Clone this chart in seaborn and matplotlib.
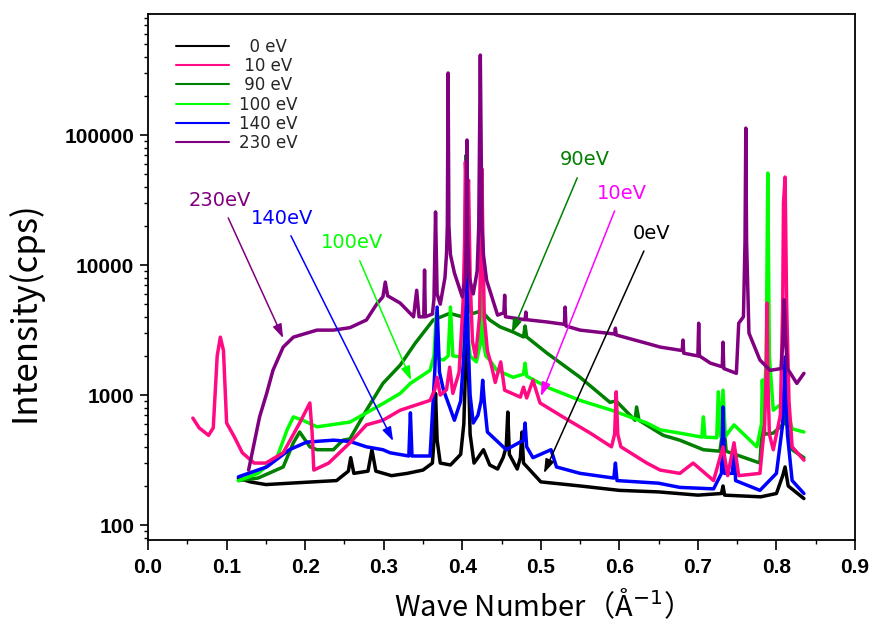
import matplotlib
matplotlib.use("Agg")
import matplotlib.pyplot as plt
from matplotlib.ticker import FixedLocator, FixedFormatter, LogLocator, NullFormatter, MultipleLocator
from matplotlib.lines import Line2D
import numpy as np
import pandas as pd
import seaborn as sns

# ---------------- data ----------------
black_x = [0.115, 0.13, 0.15, 0.18, 0.21, 0.24, 0.255, 0.258, 0.262, 0.28, 0.285, 0.29, 0.31, 0.33,
           0.35, 0.362, 0.364, 0.366, 0.368, 0.372, 0.385, 0.398, 0.402, 0.404, 0.406, 0.408, 0.41,
           0.415, 0.42, 0.427, 0.435, 0.445, 0.452, 0.456, 0.458, 0.46, 0.47, 0.474, 0.476, 0.478,
           0.5, 0.55, 0.6, 0.65, 0.7, 0.73, 0.732, 0.734, 0.78, 0.8, 0.808, 0.811, 0.815, 0.835]
black_y = [230, 215, 205, 210, 215, 220, 260, 330, 250, 260, 380, 260, 240, 250,
           265, 300, 450, 1030, 450, 300, 290, 350, 600, 1500, 8000, 1500, 500,
           300, 330, 380, 290, 270, 330, 400, 740, 350, 270, 330, 520, 300,
           215, 200, 185, 180, 170, 175, 200, 170, 165, 175, 240, 280, 200, 160]

pink_x = [0.057, 0.065, 0.077, 0.083, 0.088, 0.092, 0.096, 0.1, 0.11, 0.12, 0.135, 0.15, 0.172,
          0.193, 0.206, 0.209, 0.211, 0.23, 0.257, 0.278, 0.299, 0.321, 0.359, 0.365, 0.368,
          0.372, 0.38, 0.384, 0.388, 0.396, 0.401, 0.403, 0.404, 0.406, 0.408, 0.41, 0.413,
          0.417, 0.422, 0.424, 0.425, 0.426, 0.428, 0.432, 0.437, 0.442, 0.449, 0.454, 0.474,
          0.478, 0.482, 0.49, 0.499, 0.528, 0.563, 0.59, 0.594, 0.596, 0.598, 0.602, 0.635,
          0.652, 0.677, 0.694, 0.72, 0.732, 0.738, 0.746, 0.752, 0.779, 0.785, 0.787, 0.788,
          0.789, 0.791, 0.796, 0.805, 0.808, 0.809, 0.811, 0.813, 0.816, 0.82, 0.835]
pink_y = [665, 560, 490, 560, 2000, 2790, 2200, 610, 475, 360, 300, 300, 360,
          610, 870, 500, 265, 300, 430, 590, 640, 765, 910, 1100, 1370,
          1000, 1100, 1640, 1030, 1500, 5000, 15000, 62000, 30000, 45000, 8000, 2600,
          1960, 4000, 20000, 55000, 20000, 4000, 2200, 1700, 1250, 1800, 1090, 965,
          1150, 950, 1300, 870, 680, 510, 400, 500, 1060, 500, 400, 300,
          265, 250, 300, 220, 400, 240, 430, 240, 250, 600, 1500, 5100,
          1500, 500, 380, 700, 5000, 30000, 47500, 5000, 900, 400, 316]

dgreen_x = [0.115, 0.14, 0.172, 0.185, 0.193, 0.206, 0.215, 0.236, 0.248, 0.257, 0.278, 0.299,
            0.321, 0.34, 0.363, 0.384, 0.4, 0.403, 0.405, 0.407, 0.41, 0.414, 0.422, 0.425,
            0.428, 0.435, 0.448, 0.465, 0.478, 0.48, 0.482, 0.508, 0.55, 0.588, 0.596, 0.62,
            0.622, 0.625, 0.656, 0.677, 0.707, 0.728, 0.733, 0.736, 0.779, 0.782, 0.783, 0.785,
            0.796, 0.809, 0.811, 0.813, 0.82, 0.835]
dgreen_y = [220, 230, 280, 430, 520, 400, 380, 380, 450, 460, 765, 1230,
            1700, 2500, 3780, 4250, 4000, 6000, 70000, 6000, 4400, 4250, 4400, 5000,
            4200, 3780, 3350, 3050, 2800, 3400, 2800, 2100, 1370, 880, 900, 640,
            810, 640, 490, 450, 380, 370, 600, 370, 300, 600, 1300, 500,
            510, 600, 910, 600, 380, 330]

green_x = [0.115, 0.14, 0.164, 0.177, 0.185, 0.197, 0.215, 0.257, 0.299, 0.321, 0.334, 0.359,
           0.364, 0.367, 0.37, 0.376, 0.382, 0.385, 0.388, 0.4, 0.403, 0.405, 0.407, 0.41,
           0.418, 0.423, 0.425, 0.427, 0.43, 0.435, 0.444, 0.465, 0.478, 0.48, 0.482, 0.508,
           0.55, 0.59, 0.635, 0.652, 0.677, 0.705, 0.707, 0.709, 0.724, 0.726, 0.729, 0.732,
           0.735, 0.746, 0.775, 0.781, 0.782, 0.784, 0.787, 0.789, 0.791, 0.796, 0.811, 0.82,
           0.835]
green_y = [220, 250, 330, 540, 680, 640, 570, 620, 860, 1030, 1230, 1550,
           2000, 4250, 1900, 1860, 2000, 4750, 2000, 1960, 3000, 20000, 3000, 2000,
           1800, 2500, 9660, 2500, 2000, 1860, 1550, 1370, 1450, 1760, 1400, 1150,
           910, 765, 610, 540, 510, 475, 680, 475, 470, 1060, 480, 1090,
           480, 590, 400, 600, 1300, 700, 2000, 51000, 2000, 765, 900, 550,
           520]

blue_x = [0.115, 0.151, 0.18, 0.202, 0.236, 0.257, 0.278, 0.299, 0.308, 0.332, 0.334, 0.336,
          0.359, 0.365, 0.368, 0.371, 0.376, 0.384, 0.39, 0.398, 0.403, 0.405, 0.407, 0.41,
          0.414, 0.42, 0.424, 0.426, 0.428, 0.432, 0.456, 0.478, 0.48, 0.482, 0.49, 0.513,
          0.52, 0.55, 0.593, 0.595, 0.597, 0.65, 0.677, 0.72, 0.73, 0.732, 0.734, 0.744,
          0.746, 0.748, 0.779, 0.8, 0.808, 0.811, 0.814, 0.82, 0.835]
blue_y = [235, 280, 380, 435, 450, 440, 400, 380, 360, 340, 730, 340,
          340, 1500, 4750, 1500, 1100, 810, 640, 900, 2500, 55000, 3000, 1000,
          610, 700, 900, 1300, 900, 520, 380, 450, 610, 400, 330, 380,
          280, 250, 230, 300, 220, 210, 195, 190, 250, 810, 250, 250,
          400, 220, 185, 250, 600, 1960, 500, 220, 175]

purple_x = [0.128, 0.142, 0.151, 0.159, 0.172, 0.185, 0.215, 0.236, 0.257, 0.278, 0.291, 0.299,
            0.302, 0.305, 0.321, 0.338, 0.342, 0.345, 0.351, 0.352, 0.353, 0.362, 0.364, 0.366,
            0.368, 0.372, 0.378, 0.38, 0.381, 0.382, 0.383, 0.385, 0.39, 0.4, 0.404, 0.405,
            0.406, 0.407, 0.409, 0.414, 0.419, 0.421, 0.423, 0.425, 0.427, 0.431, 0.445, 0.453,
            0.454, 0.455, 0.465, 0.48, 0.481, 0.482, 0.508, 0.53, 0.531, 0.532, 0.55, 0.594,
            0.595, 0.596, 0.635, 0.652, 0.68, 0.681, 0.682, 0.7, 0.701, 0.702, 0.716, 0.731,
            0.732, 0.733, 0.749, 0.752, 0.758, 0.76, 0.761, 0.762, 0.765, 0.779, 0.792, 0.806,
            0.808, 0.81, 0.812, 0.814, 0.826, 0.835]
purple_y = [265, 680, 1030, 1550, 2340, 2790, 3160, 3160, 3300, 3780, 5000, 5700,
            7400, 5800, 5100, 4000, 6400, 4000, 4000, 9150, 4000, 4200, 5500, 25600,
            6000, 5000, 8000, 12300, 20000, 300000, 20000, 12000, 8700, 5700, 8000, 15000,
            91600, 15000, 8000, 6000, 9000, 20000, 412000, 20000, 12000, 7650, 4120, 4300,
            5860, 4000, 3920, 3800, 4350, 3800, 3650, 3500, 4750, 3400, 3160, 2950,
            3270, 2900, 2500, 2340, 2200, 2650, 2100, 2000, 3570, 2000, 1760, 1650,
            2550, 1600, 1470, 3570, 4000, 15000, 113000, 15000, 3000, 1860, 1550, 1600,
            2500, 5400, 2500, 1600, 1230, 1470]

series_labels = ["  0 eV", " 10 eV", " 90 eV", "100 eV", "140 eV", "230 eV"]
annot_labels = ["0eV", "10eV", "90eV", "100eV", "140eV", "230eV"]
y_tick_values = [100, 1000, 10000, 100000]
y_tick_labels = ["100", "1000", "10000", "100000"]
x_tick_values = [0.0, 0.1, 0.2, 0.3, 0.4, 0.5, 0.6, 0.7, 0.8, 0.9]

# ---------------- styling ----------------
sns.set_style("ticks")
plt.rcParams['font.family'] = ['DejaVu Sans']

colors = {"0": "#000000", "10": "#FF0A82", "90": "#008000", "100": "#00FF00",
          "140": "#0000FF", "230": "#800080"}
annot_colors = {"0": "#000000", "10": "#FF00FF", "90": "#008000", "100": "#00FF00",
                "140": "#0000FF", "230": "#800080"}

fig = plt.figure(figsize=(8.71, 6.28), dpi=100)
ax = fig.add_axes([0.170, 0.140, 0.8116, 0.8377])

data = {
    "0": (black_x, black_y),
    "10": (pink_x, pink_y),
    "90": (dgreen_x, dgreen_y),
    "100": (green_x, green_y),
    "140": (blue_x, blue_y),
    "230": (purple_x, purple_y),
}
keys = ["0", "10", "90", "100", "140", "230"]
draw_order = ["0", "90", "100", "140", "10", "230"]

for k in draw_order:
    xs, ys = data[k]
    df = pd.DataFrame({"x": xs, "y": ys})
    sns.lineplot(data=df, x="x", y="y", color=colors[k], linewidth=2.5,
                 sort=False, estimator=None, ax=ax, legend=False)

ax.set_yscale("log")
ax.set_xlim(0.0, 0.9)
ax.set_ylim(76.7, 853000)

ax.xaxis.set_major_locator(FixedLocator(x_tick_values))
ax.xaxis.set_minor_locator(MultipleLocator(0.05))
ax.set_xticklabels([f"{v:.1f}" for v in x_tick_values])
ax.yaxis.set_major_locator(FixedLocator(y_tick_values))
ax.yaxis.set_major_formatter(FixedFormatter(y_tick_labels))
ax.yaxis.set_minor_locator(LogLocator(base=10, subs=np.arange(2, 10)))
ax.yaxis.set_minor_formatter(NullFormatter())

for lab in ax.get_xticklabels() + ax.get_yticklabels():
    lab.set_fontfamily(['Liberation Sans Narrow', 'Liberation Sans', 'DejaVu Sans'])
    lab.set_fontweight('bold')
    lab.set_fontsize(15)
    lab.set_color('black')

ax.tick_params(axis='both', which='major', direction='out', length=6, width=1.2, color='black', pad=4,
               labelcolor='black')
ax.tick_params(axis='both', which='minor', direction='out', length=3, width=1.0, color='black')
ax.tick_params(axis='x', which='major', length=7, pad=6)

for s in ax.spines.values():
    s.set_visible(True)
    s.set_color('black')
    s.set_linewidth(1.3)

ax.set_xlabel("Wave Number（Å$^{-1}$）", fontsize=21, color='black')
ax.set_ylabel("Intensity(cps)", fontsize=25, color='black')
ax.xaxis.label.set_fontfamily(['Noto Sans CJK JP', 'DejaVu Sans'])
ax.yaxis.label.set_fontfamily(['Noto Sans CJK JP', 'DejaVu Sans'])
ax.xaxis.set_label_coords(0.546, -0.092)
ax.yaxis.set_label_coords(-0.15, 0.435)

# legend
handles = [Line2D([0], [0], color=colors[k], linewidth=1.5) for k in keys]
leg = ax.legend(handles, series_labels, loc='upper left', bbox_to_anchor=(0.03, 0.968),
                frameon=False, fontsize=12, handlelength=3.2, labelspacing=0.08,
                handletextpad=0.6, borderaxespad=0.0)

# annotations: (text x, text y, head x, head y)
annots = {
    "230": (0.0917, 31600, 0.172, 2740),
    "140": (0.1706, 23000, 0.312, 443),
    "100": (0.2597, 14800, 0.335, 1300),
    "90": (0.556, 64300, 0.463, 3000),
    "10": (0.603, 35800, 0.500, 980),
    "0": (0.6415, 17600, 0.504, 251),
}
for k, lab in zip(keys, annot_labels):
    tx, ty, hx, hy = annots[k]
    ax.annotate(lab, xy=(hx, hy), xytext=(tx, ty), textcoords='data',
                ha='center', va='center', fontsize=14, color=annot_colors[k],
                arrowprops=dict(arrowstyle='-|>,head_length=0.6,head_width=0.2',
                                color=annot_colors[k], lw=1.1, shrinkA=4, shrinkB=0))

fig.savefig("out.png", dpi=100)
